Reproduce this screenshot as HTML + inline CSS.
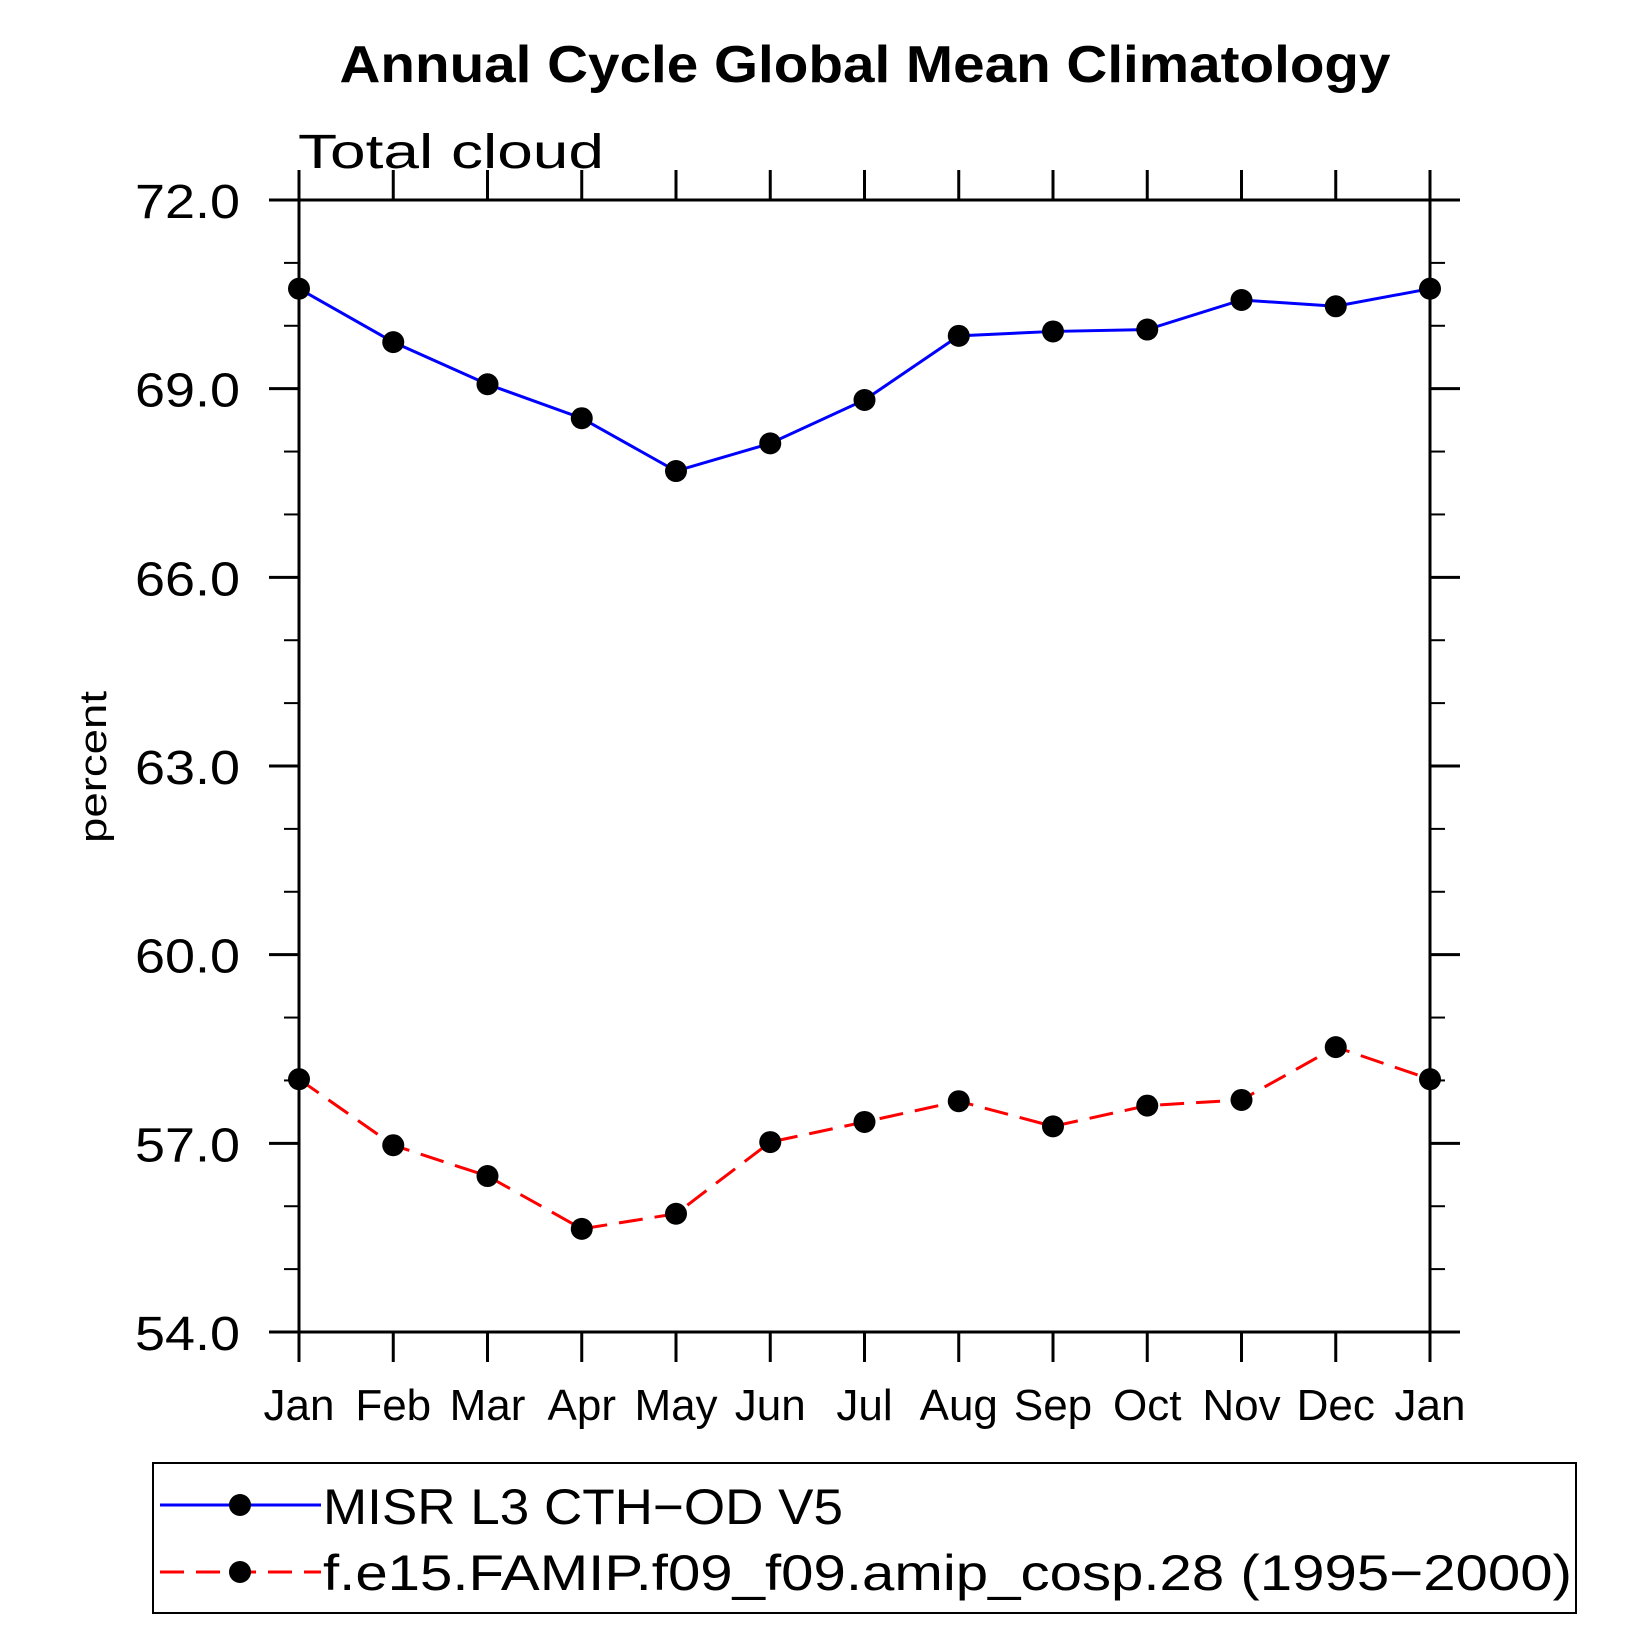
<!DOCTYPE html>
<html><head><meta charset="utf-8"><style>html,body{margin:0;padding:0;background:#fff}svg{display:block}text{font-family:"Liberation Sans",sans-serif}</style></head>
<body>
<svg id="chart" width="1652" height="1652" viewBox="0 0 1652 1652" xmlns="http://www.w3.org/2000/svg">
<text x="865" y="82" text-anchor="middle" font-size="52" font-weight="bold" textLength="1051" lengthAdjust="spacingAndGlyphs">Annual Cycle Global Mean Climatology</text>
<text x="298" y="168" font-size="48" textLength="306" lengthAdjust="spacingAndGlyphs">Total cloud</text>
<text transform="translate(106,767) rotate(-90)" text-anchor="middle" font-size="38" textLength="152" lengthAdjust="spacingAndGlyphs">percent</text>
<g id="axes"></g>
<g id="series"></g>
<g>
<rect x="153" y="1463" width="1423" height="150" fill="none" stroke="#000" stroke-width="2"/>
<g>
<line x1="160" y1="1505" x2="321" y2="1505" stroke="#0000ff" stroke-width="3"/>
<circle cx="240" cy="1505" r="11" fill="#000"/>
<text x="323" y="1524" font-size="50" textLength="520" lengthAdjust="spacingAndGlyphs">MISR L3 CTH−OD V5</text>
</g>
<g>
<line x1="160" y1="1572" x2="321" y2="1572" stroke="#ff0000" stroke-width="3" stroke-dasharray="24,12"/>
<circle cx="240" cy="1572" r="11" fill="#000"/>
<text x="323" y="1590" font-size="50" textLength="1249" lengthAdjust="spacingAndGlyphs">f.e15.FAMIP.f09_f09.amip_cosp.28 (1995−2000)</text>
</g>
</g>
</svg>
<script>
const months = ["Jan","Feb","Mar","Apr","May","Jun","Jul","Aug","Sep","Oct","Nov","Dec","Jan"];
const misrValues = [70.59,69.74,69.07,68.53,67.69,68.13,68.82,69.84,69.91,69.94,70.41,70.31,70.59];
const modelValues = [58.02,56.97,56.48,55.64,55.88,57.02,57.34,57.67,57.27,57.60,57.69,58.53,58.02];
const yTicks = [54,57,60,63,66,69,72];
const yTickLabels = ["54.0","57.0","60.0","63.0","66.0","69.0","72.0"];
const yMinorTicks = [55,56,58,59,61,62,64,65,67,68,70,71];

const NS = "http://www.w3.org/2000/svg";
const L = 299, R = 1430, T = 200, B = 1332, yMin = 54, yMax = 72;
const xs = i => L + (R - L) * i / (months.length - 1);
const ys = v => B - (B - T) * (v - yMin) / (yMax - yMin);
function mk(tag, attrs, parent) {
  const e = document.createElementNS(NS, tag);
  for (const k in attrs) e.setAttribute(k, attrs[k]);
  parent.appendChild(e);
  return e;
}
const axes = document.getElementById("axes");
const series = document.getElementById("series");

const frame = mk("rect", {x: L, y: T, width: R - L, height: B - T, fill: "none", stroke: "#000", "stroke-width": 3}, axes);



yTicks.forEach((v, i) => {
  const y = ys(v);
  const tl = mk("line", {x1: L - 30, y1: y, x2: L, y2: y, stroke: "#000", "stroke-width": 3}, axes);
  
  
  const tr = mk("line", {x1: R, y1: y, x2: R + 30, y2: y, stroke: "#000", "stroke-width": 3}, axes);
  
  
  const t = mk("text", {x: 240, y: y + 18, "text-anchor": "end", "font-size": 48, textLength: 105, lengthAdjust: "spacingAndGlyphs"}, axes);
  t.textContent = yTickLabels[i];
  
  
});
yMinorTicks.forEach(v => {
  const y = ys(v);
  const a = mk("line", {x1: L - 15, y1: y, x2: L, y2: y, stroke: "#000", "stroke-width": 2}, axes);
  
  
  const b = mk("line", {x1: R, y1: y, x2: R + 15, y2: y, stroke: "#000", "stroke-width": 2}, axes);
  
  
});
months.forEach((m, i) => {
  const x = xs(i);
  const b = mk("line", {x1: x, y1: B, x2: x, y2: B + 30, stroke: "#000", "stroke-width": 3}, axes);
  
  
  const t = mk("line", {x1: x, y1: T - 30, x2: x, y2: T, stroke: "#000", "stroke-width": 3}, axes);
  
  
  const lab = mk("text", {x: x, y: 1420, "text-anchor": "middle", "font-size": 44}, axes);
  lab.textContent = m;
  
  
});

function drawSeries(vals, color, dash, name) {
  const pts = vals.map((v, i) => xs(i) + "," + ys(v)).join(" ");
  const pl = mk("polyline", {points: pts, fill: "none", stroke: color, "stroke-width": 3}, series);
  if (dash) pl.setAttribute("stroke-dasharray", dash);
  
  
  vals.forEach((v, i) => {
    const c = mk("circle", {cx: xs(i), cy: ys(v), r: 11, fill: "#000"}, series);
    
    
  });
}
drawSeries(misrValues, "#0000ff", null, "misr");
drawSeries(modelValues, "#ff0000", "24,12", "model");
</script>
</body></html>
